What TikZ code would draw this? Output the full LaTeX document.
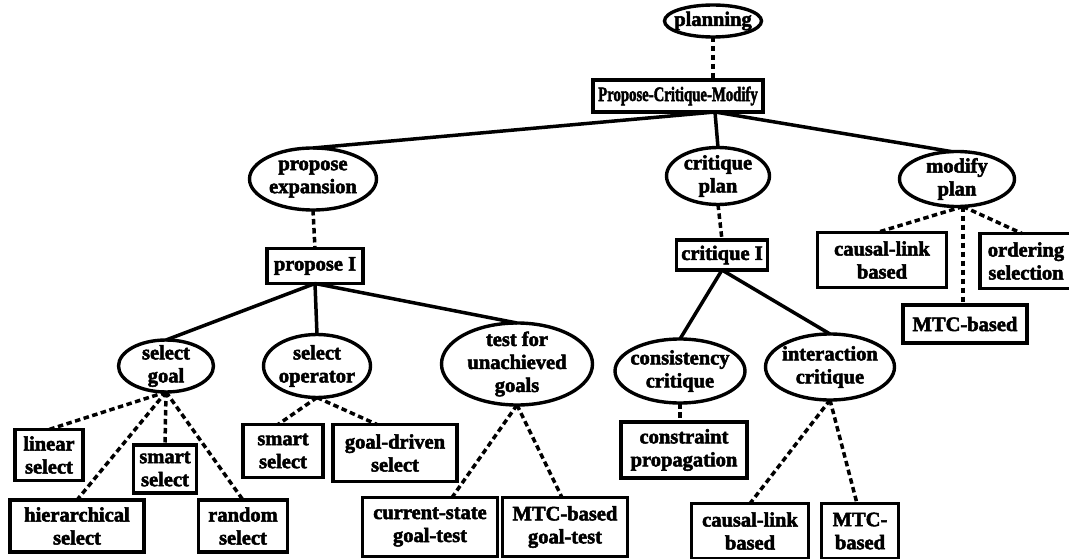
\documentclass[tikz,border=0pt]{standalone}
\usepackage{fontspec}
\setmainfont{Liberation Serif}[BoldFeatures={FakeBold=2.5}]
\usetikzlibrary{shapes.geometric,calc}
\begin{document}
\begin{tikzpicture}[x=1pt,y=-1pt,
  txt/.style={align=center,inner sep=0pt,font=\bfseries\fontsize{20.5}{23}\selectfont},
  ell/.style={ellipse,draw,line width=3.4pt,inner sep=0pt,outer sep=0pt},
  bx/.style={rectangle,draw,line width=3.4pt,inner sep=0pt,outer sep=0pt,align=center,font=\bfseries\fontsize{20.5}{23}\selectfont},
  sline/.style={line width=3.5pt},
  dline/.style={line width=3.5pt,dash pattern=on 5.5pt off 3.5pt}]
\useasboundingbox (0,0) rectangle (1069,559);
% ellipses
\node[ell,minimum width=97,minimum height=32,label={[txt]center:planning}] (plan) at (713,21) {};
\node[ell,minimum width=127,minimum height=62,label={[txt]center:propose\\expansion}] (pe) at (313,179) {};
\node[ell,minimum width=103,minimum height=57,label={[txt]center:critique\\plan}] (cp) at (718,176) {};
\node[ell,minimum width=115,minimum height=55,label={[txt]center:modify\\plan}] (mp) at (957,179) {};
\node[ell,minimum width=95,minimum height=52,label={[txt]center:select\\goal}] (sg) at (166,366) {};
\node[ell,minimum width=107,minimum height=63,label={[txt]center:select\\operator}] (so) at (317,366) {};
\node[ell,minimum width=151,minimum height=82,label={[txt]center:test for\\unachieved\\goals}] (tu) at (517,364) {};
\node[ell,minimum width=130,minimum height=64,label={[txt]center:consistency\\critique}] (cc) at (680,371) {};
\node[ell,minimum width=129,minimum height=66,label={[txt]center:interaction\\critique}] (ic) at (830,367) {};
% boxes
\node[bx,minimum width=170,minimum height=32] (pcm) at (678,96) {\scalebox{0.72}[1]{Propose-Critique-Modify}};
\node[bx,minimum width=96,minimum height=35] (pI) at (315,266) {propose I};
\node[bx,minimum width=91,minimum height=30] (cI) at (722,255) {critique I};
\node[bx,minimum width=129,minimum height=55] (clbA) at (882,260) {causal-link\\based};
\node[bx,minimum width=92,minimum height=55] (os) at (1026,261) {ordering\\selection};
\node[bx,minimum width=124,minimum height=38] (mtcA) at (965,324) {MTC-based};
\node[bx,minimum width=68,minimum height=51] (ls) at (49,455) {linear\\select};
\node[bx,minimum width=63,minimum height=48] (ssA) at (165,469) {smart\\select};
\node[bx,minimum width=134,minimum height=52] (hs) at (77,526) {hierarchical\\select};
\node[bx,minimum width=89,minimum height=52] (rs) at (243,526) {random\\select};
\node[bx,minimum width=80,minimum height=53] (ssB) at (283,451) {smart\\select};
\node[bx,minimum width=124,minimum height=57] (gds) at (395,453) {goal-driven\\select};
\node[bx,minimum width=135,minimum height=59] (cs) at (430,527) {current-state\\goal-test};
\node[bx,minimum width=125,minimum height=59] (mg) at (565,527) {MTC-based\\goal-test};
\node[bx,minimum width=126,minimum height=56] (cpp) at (684,450) {constraint\\propagation};
\node[bx,minimum width=117,minimum height=55] (clbB) at (750,531) {causal-link\\based};
\node[bx,minimum width=77,minimum height=55] (mb) at (860,531) {MTC-\\based};
% junction points
\coordinate (j1) at ($(pcm.south)+(37,0)$);
\coordinate (mpb) at ($(mp.south)+(6,0)$);
% solid connectors
\draw[sline] (j1) -- (pe.north);
\draw[sline] (j1) -- (cp.north);
\draw[sline] (j1) -- ($(mp.north)+(-6,0)$);
\draw[sline] (pI.south) -- (sg.north);
\draw[sline] (pI.south) -- (so.north);
\draw[sline] (pI.south) -- (tu.north);
\draw[sline] (cI.south) -- (cc.north);
\draw[sline] (cI.south) -- (ic.north);
% dashed connectors
\draw[dline] (plan.south) -- (plan.south |- pcm.north);
\draw[dline] (pe.south) -- (pI.north);
\draw[dline] (cp.south) -- (cI.north);
\draw[dline] (mpb) -- ($(clbA.north)+(-5,0)$);
\draw[dline] (mpb) -- ($(os.north)+(-4,0)$);
\draw[dline] (mpb) -- (mpb |- mtcA.north);
\draw[dline] (sg.south) -- (ls.north);
\draw[dline] (sg.south) -- (ssA.north);
\draw[dline] (sg.south) -- (hs.north);
\draw[dline] (sg.south) -- (rs.north);
\draw[dline] (so.south) -- ($(ssB.north)+(-5,0)$);
\draw[dline] (so.south) -- ($(gds.north)+(-18,0)$);
\draw[dline] (tu.south) -- ($(cs.north)+(22,0)$);
\draw[dline] (tu.south) -- ($(mg.north)+(-3,0)$);
\draw[dline] (cc.south) -- (cc.south |- cpp.north);
\draw[dline] (ic.south) -- (clbB.north);
\draw[dline] (ic.south) -- ($(mb.north)+(-3,0)$);
\end{tikzpicture}
\end{document}
